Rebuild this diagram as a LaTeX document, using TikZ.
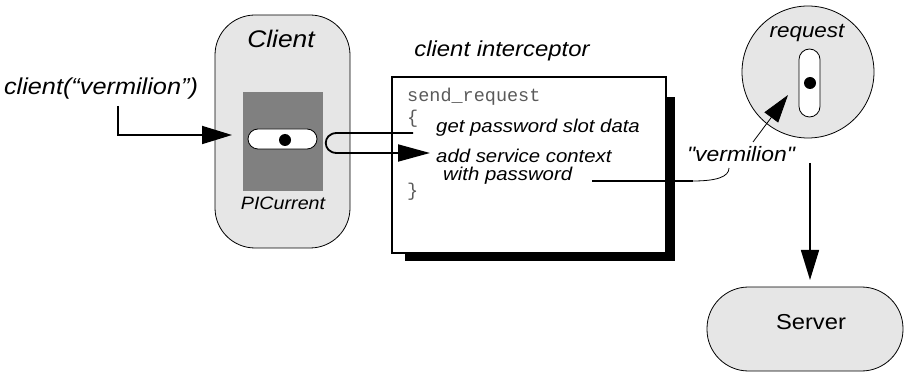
\documentclass[tikz,border=0pt]{standalone}
\usepackage{fontspec}
\setmainfont{Liberation Sans}[FakeStretch=1.1]
\setmonofont{Liberation Mono}
\newfontfamily\plainqfont{Liberation Sans}[FakeStretch=1.1, Ligatures=TeXOff]
\usetikzlibrary{arrows.meta}
\definecolor{lightfill}{HTML}{E6E6E6}
\definecolor{midgray}{HTML}{808080}
\definecolor{codegray}{HTML}{5A5A5A}
\newcommand\fsz[1]{\fontsize{#1}{#1}\selectfont}
\tikzset{
  fillshape/.style={draw, line width=0.8pt, fill=lightfill, inner sep=0pt},
  lbl/.style={inner sep=0pt},
  body/.style={lbl, anchor=base west, font=\fsz{18.5}\itshape},
  code/.style={lbl, anchor=base west, font=\fsz{18.5}\ttfamily, text=codegray},
  bigtip/.style={-{Triangle[length=30pt,width=18pt]}},
  dotmark/.style={circle, fill=black, minimum size=12pt, inner sep=0pt},
  slotbox/.style={draw, fill=white, line width=0.8pt, inner sep=0pt},
  wire/.style={line width=1.8pt},
}
\begin{document}
\begin{tikzpicture}[x=1pt,y=-1pt]
\useasboundingbox (0,0) rectangle (908,374);

% Client
\node[fillshape, rounded corners=40pt, minimum width=135pt, minimum height=233pt] (client) at (282.5,131.5) {};
\node[lbl, anchor=base, font=\fsz{24}\itshape] (clientlbl) at (281,48) {Client};
\node[fill=midgray, minimum width=80pt, minimum height=99pt, inner sep=0pt] (pic) at (283,141.5) {};
\node[slotbox, rounded corners=10pt, minimum width=69pt, minimum height=20pt] (slot) at (282.5,139) {};
\node[dotmark] (dot1) at (285,140) {};
\node[lbl, anchor=base, font=\fsz{17.9}\itshape] (piclbl) at (283,210) {PICurrent};

% call
\node[lbl, anchor=base, font=\fsz{23}\itshape] (call) at (101,95) {client(“vermilion”)};
\coordinate (callfoot) at (118,106);
\coordinate (cin) at (232,135);
\draw[wire, bigtip] (callfoot) |- (cin);

% interceptor
\node[fill=black, minimum width=270pt, minimum height=164pt, inner sep=0pt] (ishadow) at (540,179) {};
\node[draw, fill=white, line width=1.6pt, minimum width=274pt, minimum height=176pt, inner sep=0pt] (icpt) at (529,165) {};
\node[lbl, anchor=base, font=\fsz{21.7}\itshape] (ititle) at (502,57) {client interceptor};
\node[code] (sr) at (407,102) {send\_request};
\node[code] (ob) at (407,124) {\{};
\node[code] (cb) at (407,197) {\}};
\node[body] (gp) at (436,133) {get password slot data};
\node[body] (as) at (436,163) {add service context};
\node[body] (wp) at (443,181) {with password};

% loop from slot
\coordinate (gs) at (413,133);
\coordinate (aa) at (430,153);
\draw[wire, -{Triangle[length=32pt,width=17pt]}] (gs) -- (337,133) .. controls (322,133) and (322,153) .. (337,153) -- (aa);

% request
\node[fillshape, circle, minimum size=132pt] (req) at (808,72) {};
\node[lbl, anchor=base, font=\fsz{20.4}\itshape] (reqlbl) at (807,38) {request};
\node[slotbox, rounded corners=10.5pt, minimum width=21pt, minimum height=68pt] (slot2) at (809.5,83) {};
\node[dotmark] (dot2) at (810,83) {};

% vermilion label
\node[lbl, anchor=base, font=\plainqfont\fsz{20.8}\itshape] (vlab) at (741,162) {"vermilion"};
\coordinate (bend) at (693,181);
\coordinate (vfoot) at (729,168);
\draw[wire] ([xshift=20pt]wp.base east) -- (bend);
\draw[line width=0.8pt] (bend) .. controls (716,181) and (729,177) .. (vfoot);
\coordinate (vfrom) at (753,142);
\coordinate (vto) at (788,95);
\draw[line width=0.8pt, -{Triangle[length=28pt,width=17pt]}] (vfrom) -- (vto);

% server
\coordinate (dstart) at (810,163);
\coordinate (dend) at (810,280);
\draw[line width=1.6pt, bigtip] (dstart) -- (dend);
\node[fillshape, rounded corners=41.5pt, minimum width=196pt, minimum height=84pt] (server) at (805,329) {};
\node[lbl, font=\fsz{21.6}] (srvlbl) at (811,322) {Server};
\end{tikzpicture}
\end{document}
